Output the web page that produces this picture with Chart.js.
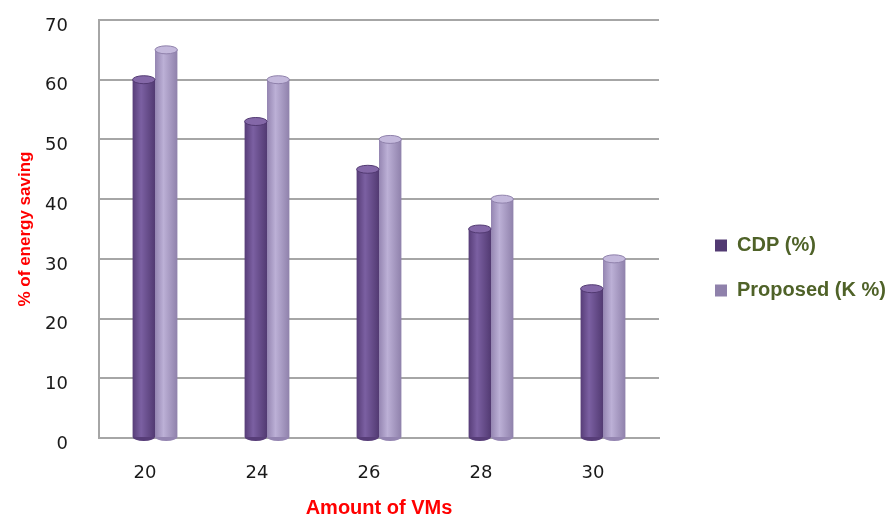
<!DOCTYPE html>
<html>
<head>
<meta charset="utf-8">
<script src="https://cdn.jsdelivr.net/npm/chart.js@4/dist/chart.umd.min.js"></script>
<style>
  html, body { margin: 0; padding: 0; background: #ffffff; }
  #wrap { position: relative; width: 888px; height: 520px; }
</style>
</head>
<body>
<div id="wrap"><canvas id="c" width="888" height="520"></canvas></div>
<script>
const categories = ['20', '24', '26', '28', '30'];
const cdpValues = [60, 53, 45, 35, 25];
const proposedValues = [65, 60, 50, 40, 30];
const seriesNames = ['CDP (%)', 'Proposed (K %)'];
const yMin = 0, yMax = 70, yStep = 10;
const xTitle = 'Amount of VMs';
const yTitle = '% of energy saving';

const flatColors = ['#6f5395', '#a99bc5'];
const cylColors = [
  ['#573d78', '#7b60a2', '#523a72'],
  ['#9485b1', '#bcb0d6', '#8f81ab']
];
const capColors = ['#8468a8', '#c4b9dc'];
const CAT_PCT = 0.4;
const LEGEND_WIDTH = 229;
const LEGEND_GAP = 31;

function cylBg(c) {
  const di = c.datasetIndex;
  if (c.type !== 'data') return flatColors[di];
  const chart = c.chart;
  const xs = chart.scales && chart.scales.x;
  const area = chart.chartArea;
  if (!xs || !area) return flatColors[di];
  const cat = (area.right - area.left) / categories.length;
  const bw = cat * CAT_PCT / 2;
  const cx = xs.getPixelForValue(c.dataIndex) + (di - 0.5) * bw;
  const g = chart.ctx.createLinearGradient(cx - bw / 2, 0, cx + bw / 2, 0);
  const cols = cylColors[di];
  g.addColorStop(0, cols[0]);
  g.addColorStop(0.38, cols[1]);
  g.addColorStop(1, cols[2]);
  return g;
}

const legendPlacePlugin = {
  id: 'legendPlace',
  beforeLayout(chart) {
    const lg = chart.legend;
    if (lg && !lg._patched) {
      const orig = lg.fit;
      lg.fit = function () { orig.call(this); this.width = LEGEND_WIDTH; };
      lg._patched = true;
    }
  },
  afterLayout(chart) {
    const lg = chart.legend;
    if (lg) {
      lg.left = chart.chartArea.right + LEGEND_GAP;
      lg.right = lg.left + LEGEND_WIDTH;
      lg.top = 16;
      lg.bottom = 520;
    }
  }
};

const capsPlugin = {
  id: 'caps',
  afterDatasetsDraw(chart) {
    const ctx = chart.ctx;
    chart.data.datasets.forEach((ds, di) => {
      const meta = chart.getDatasetMeta(di);
      meta.data.forEach(el => {
        const p = el.getProps(['x', 'y', 'width', 'base'], true);
        const rx = p.width / 2, ry = 4;
        ctx.save();
        ctx.beginPath();
        ctx.ellipse(p.x, p.base, rx, ry, 0, 0, Math.PI);
        ctx.fillStyle = cylColors[di][0];
        ctx.fill();
        ctx.beginPath();
        ctx.ellipse(p.x, p.y, rx, ry, 0, 0, Math.PI * 2);
        ctx.fillStyle = capColors[di];
        ctx.fill();
        ctx.lineWidth = 1;
        ctx.strokeStyle = cylColors[di][2];
        ctx.stroke();
        ctx.restore();
      });
    });
  }
};

new Chart(document.getElementById('c'), {
  type: 'bar',
  data: {
    labels: categories,
    datasets: [
      { label: seriesNames[0], data: cdpValues, backgroundColor: cylBg, borderWidth: 0,
        categoryPercentage: CAT_PCT, barPercentage: 1.0 },
      { label: seriesNames[1], data: proposedValues, backgroundColor: cylBg, borderWidth: 0,
        categoryPercentage: CAT_PCT, barPercentage: 1.0 }
    ]
  },
  options: {
    responsive: false,
    animation: false,
    layout: { padding: { top: 20, right: 0, bottom: 0, left: 0 } },
    plugins: {
      legend: {
        position: 'right',
        align: 'center',
        labels: {
          boxWidth: 12,
          boxHeight: 12,
          padding: 25,
          color: '#4f6228',
          font: { family: 'Liberation Sans', size: 20, weight: 'bold' }
        }
      },
      tooltip: { enabled: false }
    },
    scales: {
      x: {
        grid: { display: false },
        border: { display: true, color: '#a6a6a6', width: 2 },
        ticks: {
          color: '#1a1a1a',
          padding: 17,
          labelOffset: -10,
          font: { family: 'DejaVu Sans', size: 18 }
        },
        title: {
          display: true,
          text: xTitle,
          color: '#ff0000',
          padding: { top: 0, bottom: 0 },
          font: { family: 'Liberation Sans', size: 20, weight: 'bold' }
        },
        afterFit(s) { s.height = 82; }
      },
      y: {
        min: yMin,
        max: yMax,
        ticks: {
          stepSize: yStep,
          color: '#1a1a1a',
          padding: 0,
          labelOffset: 6,
          font: { family: 'DejaVu Sans', size: 18 }
        },
        grid: { color: '#a6a6a6', lineWidth: 2, drawTicks: true, tickLength: 31, tickColor: 'rgba(0,0,0,0)' },
        border: { display: true, color: '#a6a6a6', width: 2 },
        title: {
          display: true,
          text: yTitle,
          color: '#ff0000',
          padding: { top: 15, bottom: 0 },
          font: { family: 'Liberation Sans', size: 17, weight: 'bold' }
        },
        afterFit(s) { s.width = 99; }
      }
    }
  },
  plugins: [legendPlacePlugin, capsPlugin]
});
</script>
</body>
</html>
